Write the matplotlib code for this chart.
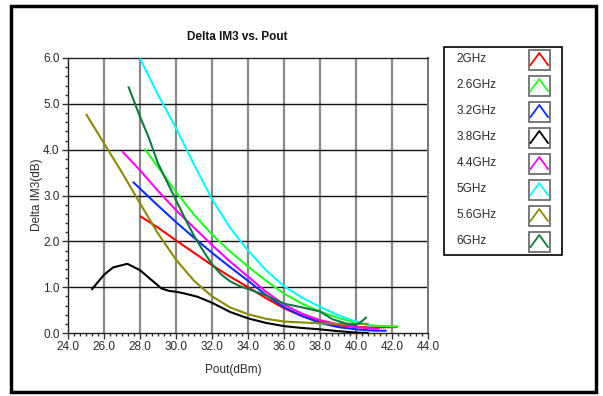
import matplotlib
matplotlib.use('Agg')
import matplotlib.pyplot as plt
from matplotlib.patches import Rectangle
from matplotlib.lines import Line2D
from matplotlib.ticker import MultipleLocator, FormatStrFormatter

plt.rcParams['font.family'] = ['Liberation Sans', 'DejaVu Sans']

# Delta IM3 (dB) vs. Pout (dBm)
labels = ['2GHz', '2.6GHz', '3.2GHz', '3.8GHz', '4.4GHz', '5GHz', '5.6GHz', '6GHz']
colors = ['#ff0000', '#1eff1e', '#0a2dff', '#000000', '#ff00ff', '#00ffff', '#8c8a00', '#0e7a3e']

pout_2g = [28.0, 29.0, 30.0, 31.0, 32.0, 33.0, 34.0, 35.0, 36.0, 37.0, 38.0, 39.0, 40.0, 41.0, 42.3]
im3_2g = [2.55, 2.3, 2.02, 1.75, 1.48, 1.23, 1.0, 0.76, 0.54, 0.37, 0.25, 0.17, 0.13, 0.12, 0.13]

pout_26g = [28.25, 29.0, 30.0, 31.0, 32.0, 33.0, 34.0, 35.0, 36.0, 37.0, 38.0, 39.0, 40.0, 41.0, 42.35]
im3_26g = [4.02, 3.62, 3.08, 2.58, 2.15, 1.78, 1.45, 1.14, 0.86, 0.64, 0.47, 0.33, 0.22, 0.16, 0.14]

pout_32g = [27.6, 28.0, 29.0, 30.0, 31.0, 32.0, 33.0, 34.0, 35.0, 36.0, 37.0, 38.0, 39.0, 40.0, 41.0, 41.7]
im3_32g = [3.3, 3.15, 2.78, 2.42, 2.08, 1.75, 1.44, 1.14, 0.83, 0.56, 0.37, 0.22, 0.13, 0.08, 0.05, 0.05]

pout_38g = [25.3, 26.0, 26.5, 27.3, 28.0, 28.6, 29.2, 29.6, 30.0, 30.5, 31.2, 32.0, 32.5, 33.0,
            33.5, 34.0, 35.0, 36.0, 37.0, 38.0, 39.0, 40.0, 40.7]
im3_38g = [0.94, 1.27, 1.43, 1.51, 1.37, 1.17, 0.97, 0.92, 0.9, 0.86, 0.79, 0.66, 0.56, 0.46,
           0.39, 0.32, 0.22, 0.15, 0.11, 0.08, 0.04, 0.01, 0.0]

pout_44g = [27.0, 28.0, 29.0, 30.0, 31.0, 32.0, 33.0, 34.0, 35.0, 36.0, 37.0, 38.0, 39.0, 40.0, 41.3]
im3_44g = [3.97, 3.55, 3.1, 2.68, 2.3, 1.92, 1.56, 1.23, 0.9, 0.62, 0.42, 0.28, 0.19, 0.13, 0.08]

pout_5g = [28.0, 29.0, 30.0, 31.0, 32.0, 33.0, 34.0, 35.0, 36.0, 37.0, 38.0, 39.0, 40.0, 40.8]
im3_5g = [5.99, 5.2, 4.47, 3.68, 2.92, 2.3, 1.8, 1.37, 1.02, 0.77, 0.57, 0.39, 0.25, 0.16]

pout_56g = [25.0, 26.0, 27.0, 28.0, 29.0, 30.0, 31.0, 32.0, 33.0, 34.0, 35.0, 36.0, 37.0, 38.0, 39.0, 40.0, 40.7]
im3_56g = [4.78, 4.14, 3.5, 2.83, 2.17, 1.6, 1.14, 0.8, 0.56, 0.41, 0.31, 0.25, 0.23, 0.21, 0.2, 0.2, 0.2]

pout_6g = [27.35, 28.0, 28.5, 29.0, 29.5, 30.0, 30.5, 31.0, 31.5, 32.0, 32.5, 33.0, 33.5, 34.0,
           35.0, 36.0, 37.0, 38.0, 38.7, 39.5, 40.0, 40.3, 40.6]
im3_6g = [5.38, 4.72, 4.25, 3.7, 3.3, 2.9, 2.5, 2.12, 1.8, 1.5, 1.28, 1.13, 1.03, 0.96,
          0.82, 0.64, 0.56, 0.47, 0.3, 0.2, 0.17, 0.25, 0.35]

series = [(pout_2g, im3_2g), (pout_26g, im3_26g), (pout_32g, im3_32g), (pout_38g, im3_38g),
          (pout_44g, im3_44g), (pout_5g, im3_5g), (pout_56g, im3_56g), (pout_6g, im3_6g)]

W, H = 603, 396
fig = plt.figure(figsize=(W / 100, H / 100), dpi=100)
fig.patch.set_facecolor('white')

ax = fig.add_axes([68 / W, 1 - 333 / H, 360 / W, 275 / H])
for (x, y), c in zip(series, colors):
    ax.plot(x, y, color=c, lw=1.5, solid_capstyle='butt', solid_joinstyle='round', zorder=3)

ax.set_xlim(24, 44)
ax.set_ylim(0, 6)
ax.xaxis.set_major_locator(MultipleLocator(2))
ax.xaxis.set_minor_locator(MultipleLocator(2 / 6))
ax.yaxis.set_major_locator(MultipleLocator(1))
ax.yaxis.set_minor_locator(MultipleLocator(0.2))
ax.xaxis.set_major_formatter(FormatStrFormatter('%.1f'))
ax.yaxis.set_major_formatter(FormatStrFormatter('%.1f'))
ax.tick_params(which='major', length=4, width=1, color='#333333', labelsize=8.5,
               labelcolor='#2a2a2a', pad=2)
ax.tick_params(which='minor', length=2.5, width=1, color='#333333')

for v in range(26, 44, 2):
    ax.axvline(v, color='#8a8a8a', lw=1.6, zorder=1)
for v in range(1, 6):
    ax.axhline(v, color='#111111', lw=1.0, zorder=1)
for s in ['left', 'bottom', 'top']:
    ax.spines[s].set_color('#222222')
    ax.spines[s].set_linewidth(1.0)
ax.spines['right'].set_color('#777777')
ax.spines['right'].set_linewidth(1.4)

fig.text(237 / W, 1 - 37 / H, 'Delta IM3 vs. Pout', ha='center', va='center',
         fontsize=8.5, fontweight='bold', color='#111111')
fig.text(233 / W, 1 - 370 / H, 'Pout(dBm)', ha='center', va='center',
         fontsize=8.5, color='#2a2a2a')
fig.text(37 / W, 1 - 195 / H, 'Delta IM3(dB)', ha='center', va='center',
         rotation=90, fontsize=8.5, color='#2a2a2a')

# overlay in pixel coordinates for the frame and the legend panel
ov = fig.add_axes([0, 0, 1, 1], zorder=5)
ov.set_xlim(0, W)
ov.set_ylim(H, 0)
ov.axis('off')
ov.patch.set_alpha(0)
ov.add_patch(Rectangle((11, 6), 585, 386, fill=False, ec='black', lw=2.5))
ov.add_patch(Rectangle((444, 47), 118, 208, fill=False, ec='black', lw=1.2))

row0, step = 59.5, 26.0
for i, (lab, c) in enumerate(zip(labels, colors)):
    yc = row0 + i * step
    ov.text(456.5, yc, lab, ha='left', va='center', fontsize=8.5, color='#2a2a2a')
    ov.add_patch(Rectangle((528.5, yc - 10), 21.5, 20.5, fill=False, ec='#6e6e6e', lw=1.3))
    ov.add_line(Line2D([530.5, 539.3, 548.0], [yc + 5.5, yc - 6.5, yc + 5.5], color=c, lw=1.3))

fig.savefig('out.png', dpi=100)
